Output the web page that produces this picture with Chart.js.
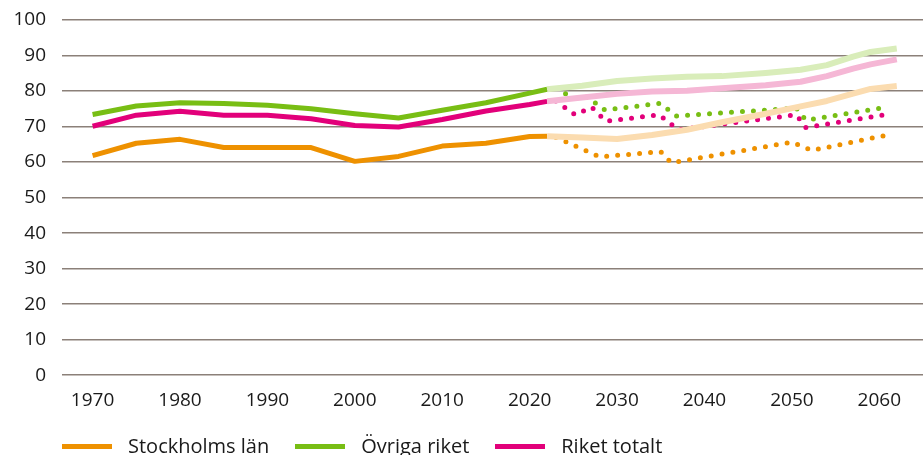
<!DOCTYPE html>
<html>
<head>
<meta charset="utf-8">
<script src="https://cdn.jsdelivr.net/npm/chart.js@4.4.1/dist/chart.umd.min.js"></script>
<style>
  html, body { margin: 0; padding: 0; background: #fff; }
  #wrap { position: relative; width: 923px; height: 455px; overflow: hidden; }
  #legend {
    position: absolute; left: 62px; top: 434px;
    display: flex; align-items: center; gap: 26px;
    font-family: "Open Sans", sans-serif; font-size: 20px; line-height: 24px; color: #1a1a1a;
    white-space: nowrap;
  }
  .item { display: flex; align-items: center; }
  .mark { width: 50px; height: 5px; margin-right: 16px; }
</style>
</head>
<body>
<div id="wrap">
  <canvas id="graf" width="923" height="455"></canvas>
  <div id="legend"></div>
</div>
<script>
"use strict";

let xTicks = [1970, 1980, 1990, 2000, 2010, 2020, 2030, 2040, 2050, 2060];

let names = ["Stockholms län", "Övriga riket", "Riket totalt"];
let colors = ["#ee9100", "#78be14", "#e2007a"];
let fadedColors = ["#fbdcb0", "#d9edba", "#f5b7d5"];

// historik
let histYears = [1970, 1975, 1980, 1985, 1990, 1995, 2000, 2005, 2010, 2015, 2020, 2022];
let stockholmHist = [61.8, 65.3, 66.4, 64.1, 64.1, 64.1, 60.2, 61.6, 64.5, 65.3, 67.2, 67.3];
let ovrigaHist = [73.4, 75.8, 76.7, 76.5, 76.0, 75.0, 73.6, 72.4, 74.6, 76.7, 79.4, 80.5];
let riketHist = [70.1, 73.2, 74.3, 73.2, 73.2, 72.2, 70.3, 69.9, 72.0, 74.4, 76.2, 77.1];

// prognos (ljus linje)
let progYears = [2022, 2026, 2030, 2034, 2038, 2042, 2047, 2051, 2054, 2057, 2059, 2062];
let stockholmProg = [67.3, 66.9, 66.5, 67.6, 69.1, 71.2, 73.6, 75.7, 77.2, 79.3, 80.6, 81.4];
let ovrigaProg = [80.5, 81.5, 82.8, 83.5, 84.0, 84.2, 85.1, 86.0, 87.3, 89.7, 91.0, 92.0];
let riketProg = [77.1, 78.2, 79.2, 79.9, 80.1, 80.8, 81.6, 82.6, 84.2, 86.3, 87.5, 88.9];

// alternativ (prickad linje)
let stockholmAltYears = [2023, 2028, 2035, 2036.2, 2050, 2052.3, 2061.3];
let stockholmAlt = [67.0, 61.5, 62.9, 59.8, 65.6, 63.3, 67.8];
let ovrigaAltYears = [2023, 2025.1, 2026.6, 2028.6, 2034.9, 2036.8, 2050.5, 2051.6, 2060.5];
let ovrigaAlt = [80.7, 77.9, 78.3, 74.7, 76.5, 73.0, 75.2, 71.8, 75.3];
let riketAltYears = [2023, 2025.2, 2027.1, 2028.7, 2034.8, 2037.0, 2050.5, 2051.6, 2060.5];
let riketAlt = [77.2, 73.3, 75.5, 71.5, 73.3, 69.1, 73.3, 69.7, 73.3];

function body(years, values)
{
    return years.map((y, i) => ({ x: y, y: values[i] }));
}

let hist = [stockholmHist, ovrigaHist, riketHist];
let prog = [stockholmProg, ovrigaProg, riketProg];
let altYears = [stockholmAltYears, ovrigaAltYears, riketAltYears];
let alt = [stockholmAlt, ovrigaAlt, riketAlt];

let datasets = [];
for (let i = 0; i < 3; i++)
{
    datasets.push({
        data: body(progYears, prog[i]),
        borderColor: fadedColors[i], borderWidth: 6
    });
}
for (let i = 0; i < 3; i++)
{
    datasets.push({
        data: body(altYears[i], alt[i]),
        borderColor: colors[i], borderWidth: 5,
        borderDash: [0, 11], borderCapStyle: "round"
    });
}
for (let i = 0; i < 3; i++)
{
    datasets.push({
        data: body(histYears, hist[i]),
        borderColor: colors[i], borderWidth: 5
    });
}

let font = { family: "'Open Sans', sans-serif", size: 19 };

let graf = new Chart(document.getElementById("graf").getContext("2d"), {
    type: "line",
    data: { datasets: datasets },
    options: {
        responsive: false,
        animation: false,
        layout: { padding: { top: 20, bottom: 37, right: 0, left: 0 } },
        elements: {
            point: { radius: 0 },
            line: { tension: 0, borderJoinStyle: "round", fill: false }
        },
        plugins: { legend: { display: false }, tooltip: { enabled: false } },
        scales: {
            x: {
                type: "linear", min: 1966.5, max: 2065,
                grid: { display: false },
                border: { display: false },
                afterBuildTicks: s => { s.ticks = xTicks.map(v => ({ value: v })); },
                ticks: { font: font, color: "#1a1a1a", padding: 6, maxRotation: 0, autoSkip: false,
                    callback: v => String(v) }
            },
            y: {
                min: 0, max: 100,
                afterFit: s => { s.width = 62; s.paddingTop = 0; s.paddingBottom = 0; },
                grid: { color: "#8b8079", lineWidth: 1.6, drawTicks: false },
                border: { display: false },
                ticks: { stepSize: 10, font: font, color: "#1a1a1a", padding: 16 }
            }
        }
    }
});

let legend = document.getElementById("legend");
names.forEach((n, i) => {
    let item = document.createElement("div");
    item.className = "item";
    item.innerHTML = '<span class="mark" style="background:' + colors[i] + '"></span><span>' + n + '</span>';
    legend.appendChild(item);
});
</script>
</body>
</html>
